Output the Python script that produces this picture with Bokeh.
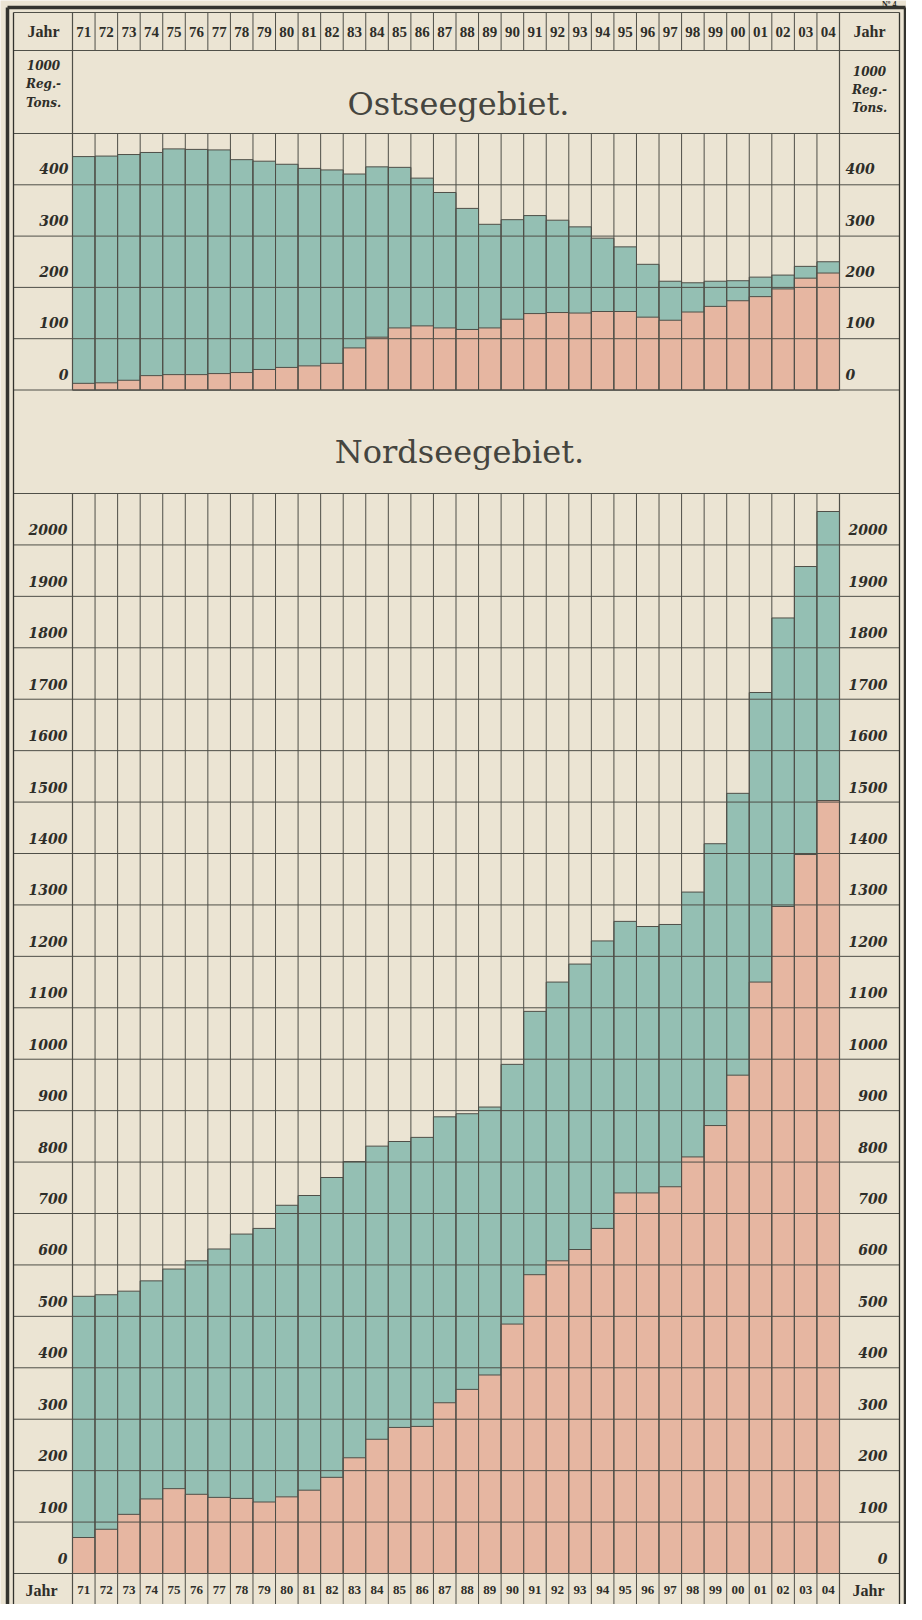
import numpy as np
from bokeh.plotting import figure
from bokeh.models import Range1d, ColumnDataSource
from bokeh.core.properties import value
from bokeh.embed import file_html
from bokeh.resources import INLINE

# ---------------- data (1000 Reg.-Tons) ----------------
years = ["71", "72", "73", "74", "75", "76", "77", "78", "79", "80", "81", "82",
         "83", "84", "85", "86", "87", "88", "89", "90", "91", "92", "93", "94",
         "95", "96", "97", "98", "99", "00", "01", "02", "03", "04"]

# Ostseegebiet: total tonnage (top of green) and steamers (red part)
ost_total = [455, 456, 459, 463, 470, 469, 468, 449, 446, 440, 432, 429,
             421, 435, 434, 413, 385, 354, 323, 332, 340, 331, 318, 296,
             279, 245, 212, 209, 212, 213, 220, 224, 241, 250]
ost_steam = [13, 14, 19, 28, 30, 30, 32, 34, 40, 44, 47, 52,
             82, 103, 121, 125, 121, 118, 121, 138, 149, 151, 150, 153,
             153, 142, 136, 152, 163, 174, 182, 197, 218, 228]

# Nordseegebiet
nord_total = [539, 542, 549, 569, 592, 608, 631, 660, 671, 716, 735, 770,
              801, 831, 840, 848, 888, 894, 907, 990, 1093, 1150, 1185, 1230,
              1268, 1258, 1262, 1325, 1419, 1517, 1713, 1858, 1958, 2065]
nord_steam = [70, 86, 115, 145, 165, 154, 148, 146, 139, 149, 162, 187,
              225, 261, 284, 286, 332, 358, 386, 485, 581, 608, 630, 671,
              740, 740, 752, 810, 871, 969, 1150, 1297, 1398, 1503]

ost_ticks = [0, 100, 200, 300, 400]
ost_tick_labels = ["0", "100", "200", "300", "400"]
ost_grid = [0, 100, 200, 300, 400, 500]
nord_ticks = [0, 100, 200, 300, 400, 500, 600, 700, 800, 900, 1000,
              1100, 1200, 1300, 1400, 1500, 1600, 1700, 1800, 1900, 2000]
nord_tick_labels = ["0", "100", "200", "300", "400", "500", "600", "700", "800",
                    "900", "1000", "1100", "1200", "1300", "1400", "1500", "1600",
                    "1700", "1800", "1900", "2000"]
nord_grid = [0, 100, 200, 300, 400, 500, 600, 700, 800, 900, 1000, 1100,
             1200, 1300, 1400, 1500, 1600, 1700, 1800, 1900, 2000, 2100]
unit_label = ["1000", "Reg.-", "Tons."]

# ---------------- layout (page pixels) ----------------
W, H = 906, 1604
PX0, PX1, PY0, PY1 = 8, 8 + W, 8, 8 + H
PLOT_L, PLOT_R = 80, 847
IN_L, IN_R = 21, 907
OUT_L, OUT_R, OUT_T = 15, 913, 15
HEAD_T, HEAD_B = 20, 58
OST_TOP, OST_0, OST_MAX = 141, 397.5, 500
NORD_TOP, NORD_0, NORD_MAX = 501, 1581, 2100

BG = "#ebe4d3"
TEAL = "#94bfb3"
SALMON = "#e6b6a1"
GRID = "#4f4f48"
FRAME = "#33332e"
TXT = "#2e2e29"

n = len(years)
colw = (PLOT_R - PLOT_L) / n
s_ost = (OST_0 - OST_TOP) / OST_MAX
s_nord = (NORD_0 - NORD_TOP) / NORD_MAX

p = figure(width=W, height=H, x_range=Range1d(PX0, PX1), y_range=Range1d(PY1, PY0),
           x_axis_type=None, y_axis_type=None, toolbar_location=None,
           output_backend="svg", min_border=0,
           background_fill_color=BG, border_fill_color=BG, outline_line_color=None)
p.extra_x_ranges = {"yr": Range1d((PX0 - PLOT_L) / colw, (PX1 - PLOT_L) / colw)}
p.extra_y_ranges = {
    "ost": Range1d((OST_0 - PY1) / s_ost, (OST_0 - PY0) / s_ost),
    "nord": Range1d((NORD_0 - PY1) / s_nord, (NORD_0 - PY0) / s_nord),
}

xc = np.arange(n) + 0.5
src_ost = ColumnDataSource(dict(x=xc, total=ost_total, steam=ost_steam))
src_nord = ColumnDataSource(dict(x=xc, total=nord_total, steam=nord_steam))

for src, rn in ((src_ost, "ost"), (src_nord, "nord")):
    p.vbar(x="x", width=1, bottom=0, top="total", source=src, fill_color=TEAL,
           line_color=GRID, line_width=1, x_range_name="yr", y_range_name=rn)
    p.vbar(x="x", width=1, bottom=0, top="steam", source=src, fill_color=SALMON,
           line_color=GRID, line_width=1, x_range_name="yr", y_range_name=rn)

# vertical column lines
inner = list(range(1, n))
for (y0, y1) in ((HEAD_T, HEAD_B), (OST_TOP, OST_0), (NORD_TOP, PY1)):
    p.segment(x0=inner, x1=inner, y0=[y0] * len(inner), y1=[y1] * len(inner),
              line_color=GRID, line_width=1, x_range_name="yr")
for (y0, y1) in ((HEAD_T, OST_0), (NORD_TOP, PY1)):
    p.segment(x0=[0, n], x1=[0, n], y0=[y0, y0], y1=[y1, y1],
              line_color=GRID, line_width=1.2, x_range_name="yr")

# horizontal value lines
p.segment(x0=[IN_L] * len(ost_grid), x1=[IN_R] * len(ost_grid), y0=ost_grid, y1=ost_grid,
          line_color=GRID, line_width=1, y_range_name="ost")
p.segment(x0=[IN_L] * len(nord_grid), x1=[IN_R] * len(nord_grid), y0=nord_grid, y1=nord_grid,
          line_color=GRID, line_width=1, y_range_name="nord")
p.segment(x0=[IN_L, IN_L], x1=[IN_R, IN_R], y0=[HEAD_T, HEAD_B], y1=[HEAD_T, HEAD_B],
          line_color=GRID, line_width=1.2)

# frame
p.segment(x0=[IN_L, IN_R], x1=[IN_L, IN_R], y0=[HEAD_T, HEAD_T], y1=[PY1, PY1],
          line_color=FRAME, line_width=1.3)
p.segment(x0=[OUT_L, OUT_R, OUT_L], x1=[OUT_L, OUT_R, OUT_R],
          y0=[OUT_T, OUT_T, OUT_T], y1=[PY1, PY1, OUT_T],
          line_color=FRAME, line_width=3.5)

# header and footer year labels
ycol_head = [(HEAD_T + HEAD_B) / 2] * n
ycol_foot = [(NORD_0 + PY1) / 2 + 1] * n
p.text(x=xc, y=ycol_head, text=years, x_range_name="yr", text_align="center",
       text_baseline="middle", text_font=value("Liberation Serif"), text_font_style="bold",
       text_font_size="15px", text_color=TXT)
p.text(x=xc, y=ycol_foot, text=years, x_range_name="yr", text_align="center",
       text_baseline="middle", text_font=value("Liberation Serif"), text_font_style="bold",
       text_font_size="13px", text_color=TXT)
p.text(x=[51, 877, 49, 876], y=[ycol_head[0], ycol_head[0], ycol_foot[0], ycol_foot[0]],
       text=["Jahr", "Jahr", "Jahr", "Jahr"], text_align="center", text_baseline="middle",
       text_font=value("Liberation Serif"), text_font_style="bold",
       text_font_size="16px", text_color=TXT)

# unit labels
p.text(x=[51] * 3, y=[72, 91, 110], text=unit_label, text_align="center",
       text_baseline="middle", text_font=value("DejaVu Serif"),
       text_font_style="bold italic", text_font_size="12px", text_color=TXT)
p.text(x=[877] * 3, y=[78, 97, 115], text=unit_label, text_align="center",
       text_baseline="middle", text_font=value("DejaVu Serif"),
       text_font_style="bold italic", text_font_size="12px", text_color=TXT)

# titles
p.text(x=[466, 467], y=[111, 459], text=["Ostseegebiet.", "Nordseegebiet."],
       text_align="center", text_baseline="alphabetic", text_font=value("DejaVu Serif"),
       text_font_size="32px", text_color="#45453f")

# value labels
tick_style = dict(text_baseline="middle", text_font=value("DejaVu Serif"),
                  text_font_style="bold italic", text_font_size="14px", text_color=TXT)
p.text(x=[76] * len(ost_ticks), y=ost_ticks, text=ost_tick_labels, y_range_name="ost",
       text_align="right", y_offset=-16, **tick_style)
p.text(x=[853] * len(ost_ticks), y=ost_ticks, text=ost_tick_labels, y_range_name="ost",
       text_align="left", y_offset=-16, **tick_style)
p.text(x=[75] * len(nord_ticks), y=nord_ticks, text=nord_tick_labels, y_range_name="nord",
       text_align="right", y_offset=-15, **tick_style)
p.text(x=[895] * len(nord_ticks), y=nord_ticks, text=nord_tick_labels, y_range_name="nord",
       text_align="right", y_offset=-15, **tick_style)

p.text(x=[906], y=[PY0 - 1], text=["N\u00ba 4."], text_align="right", text_baseline="top",
       text_font=value("Liberation Serif"), text_font_style="bold", text_font_size="8px",
       text_color=TXT)

open("out.html", "w").write(file_html(p, INLINE))
